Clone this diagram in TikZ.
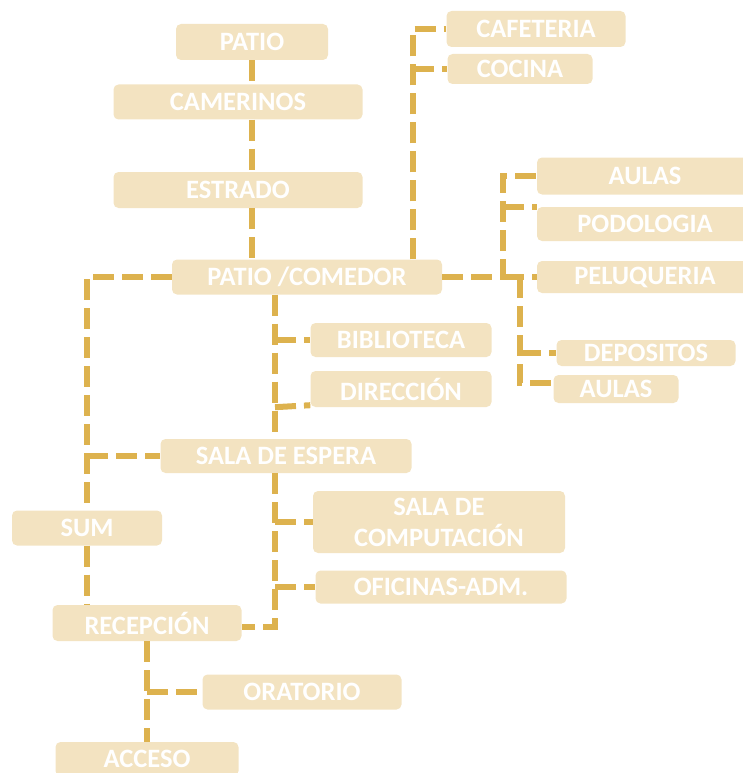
\documentclass[tikz,border=0pt]{standalone}
\usepackage{fontspec}
\setsansfont{Carlito}
\usetikzlibrary{calc}
\definecolor{PlanoBeige}{HTML}{F3E3C1}
\definecolor{PlanoGold}{HTML}{DDB24E}

\begin{document}
\begin{tikzpicture}[
  x=1pt, y=-1pt,
  font=\sffamily\bfseries\fontsize{26.5}{31}\selectfont,
  area/.style={fill=PlanoBeige, rounded corners=5pt, text=white, align=center,
    inner sep=0pt},
  link/.style={draw=PlanoGold, line width=6pt, dash pattern=on 21pt off 8pt}
]
\useasboundingbox (0,0) rectangle (743,773);
% bus lines
\coordinate (busA) at (413,0);
\coordinate (busB) at (503,0);
\coordinate (busC) at (520,0);
\coordinate (busE) at (275,0);

% boxes
\node[area, minimum width=152, minimum height=36] (patio) at (252,42) {PATIO};
\node[area, minimum width=249, minimum height=35] (camerinos) at (238,102) {CAMERINOS};
\node[area, minimum width=249, minimum height=36] (estrado) at (238,190) {ESTRADO};
\node[area, minimum width=270, minimum height=35] (comedor) at (307,277) {PATIO /COMEDOR};
\node[area, minimum width=179, minimum height=36] (cafeteria) at (536,29) {CAFETERIA};
\node[area, minimum width=145, minimum height=30] (cocina) at (520,69) {COCINA};
\node[area, minimum width=216, minimum height=37] (aulasA) at (645,176) {AULAS};
\node[area, minimum width=216, minimum height=34] (podologia) at (645,224) {PODOLOGIA};
\node[area, minimum width=216, minimum height=32] (peluqueria) at (645,277) {PELUQUERIA};
\node[area, minimum width=179, minimum height=26] (depositos) at (646,353) {DEPOSITOS};
\node[area, minimum width=125, minimum height=28] (aulasB) at (616,389) {AULAS};
\node[area, minimum width=181, minimum height=34] (biblioteca) at (401,340) {BIBLIOTECA};
\node[area, minimum width=181, minimum height=36] (direccion) at (401,389) {DIRECCIÓN};
\node[area, minimum width=251, minimum height=34] (espera) at (286,456) {SALA DE ESPERA};
\node[area, minimum width=150, minimum height=35] (sum) at (87,528) {SUM};
\node[area, minimum width=252, minimum height=62] (computacion) at (439,522) {SALA DE\\COMPUTACIÓN};
\node[area, minimum width=251, minimum height=33] (oficinas) at (441,587) {OFICINAS-ADM.};
\node[area, minimum width=189, minimum height=36] (recepcion) at (147,623) {RECEPCIÓN};
\node[area, minimum width=199, minimum height=35] (oratorio) at (302,692) {ORATORIO};
\node[area, minimum width=183, minimum height=34] (acceso) at (147,759) {ACCESO};

% connectors
\draw[link] (patio.south) -- (camerinos.north -| patio.south);
\draw[link] (camerinos.south -| patio.south) -- (estrado.north -| patio.south);
\draw[link] (estrado.south -| patio.south) -- (comedor.north -| patio.south);
\draw[link] (comedor.north -| busA) |- (cafeteria.west);
\draw[link] (busA |- cocina.west) -- (cocina.west);
\draw[link] (comedor.east) -- (busB |- comedor.east) |- (aulasA.west);
\draw[link] (busB |- podologia.north west) -- (podologia.north west);
\draw[link] (busB |- peluqueria.west) -- (peluqueria.west);
\draw[link] (busC |- comedor.east) |- ([yshift=6pt]aulasB.west);
\draw[link] (busC |- depositos.west) -- (depositos.west);
\draw[link] (comedor.west) -| (sum.north);
\draw[link] (sum.north |- espera.west) -- (espera.west);
\draw[link] (sum.south) -- (recepcion.north -| sum.south);
\draw[link] (comedor.south -| busE) -- (espera.north -| busE);
\draw[link] (busE |- biblioteca.west) -- (biblioteca.west);
\draw[link] (busE |- direccion.south west) -- ([yshift=2pt]direccion.south west);
\draw[link] (espera.south -| busE) |- ([yshift=-4pt]recepcion.east);
\draw[link] (busE |- computacion.west) -- (computacion.west);
\draw[link] (busE |- oficinas.west) -- (oficinas.west);
\draw[link] (recepcion.south) -- (acceso.north -| recepcion.south);
\draw[link] (recepcion.south |- oratorio.west) -- (oratorio.west);
\end{tikzpicture}
\end{document}
